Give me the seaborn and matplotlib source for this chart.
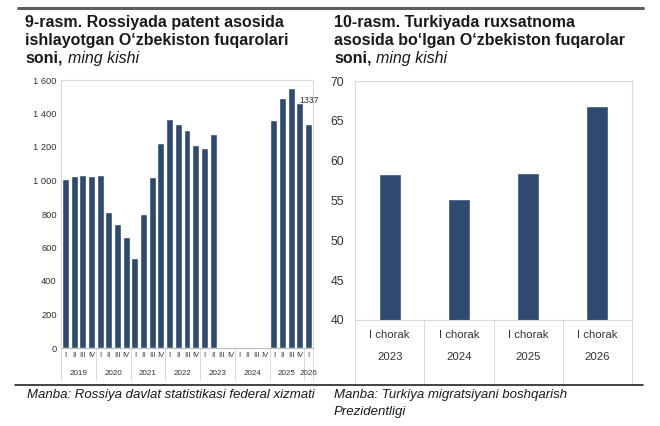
import numpy as np
import pandas as pd
import matplotlib.pyplot as plt
import matplotlib.transforms as mtransforms
import seaborn as sns

sns.set_style("white")
plt.rcParams['font.family'] = ['Liberation Sans', 'DejaVu Sans']

# ---- data: chart 9 (Russia, patents, thousand people)
years_ru = ['2019', '2020', '2021', '2022', '2023', '2024', '2025', '2026']
quarters = ['I', 'II', 'III', 'IV']
q_per_year = [4, 4, 4, 4, 4, 4, 4, 1]
ru_values = [1010, 1028, 1035, 1028,
             1035, 810, 740, 660,
             540, 800, 1020, 1225,
             1365, 1335, 1300, 1210,
             1195, 1280, np.nan, np.nan,
             np.nan, np.nan, np.nan, np.nan,
             1360, 1495, 1550, 1465,
             1337]
last_label = "1337"

# ---- data: chart 10 (Turkey, permits, thousand people)
tr_quarter = 'I chorak'
tr_years = ['2023', '2024', '2025', '2026']
tr_values = [58.3, 55.2, 58.4, 66.8]

bar_color = '#2F4A70'
frame_color = '#D9D9D9'

ru_labels = []
ru_q = []
for y, n in zip(years_ru, q_per_year):
    for q in quarters[:n]:
        ru_labels.append(y + ' ' + q)
        ru_q.append(q)
ru = pd.DataFrame({'period': ru_labels, 'value': ru_values})
tr = pd.DataFrame({'year': tr_years, 'value': tr_values})

fig = plt.figure(figsize=(6.6, 4.26), dpi=100)
W, H = 660, 426

def px_axes(x0, y0, x1, y1):
    return fig.add_axes([x0 / W, 1 - y1 / H, (x1 - x0) / W, (y1 - y0) / H])

# ---------------- left chart
ax1 = px_axes(61, 80, 313, 348)
sns.barplot(data=ru.dropna(), x='period', y='value', order=ru_labels,
            color=bar_color, saturation=1, width=0.8, errorbar=None, ax=ax1)
ax1.set_xlim(-0.5, len(ru_labels) - 0.5)
ax1.set_ylim(0, 1600)
ax1.set_yticks(range(0, 1601, 200))
ax1.set_yticklabels([f"{v:,}".replace(',', ' ') for v in range(0, 1601, 200)],
                    fontsize=6.7, color='#333333')
ax1.set_xticks(range(len(ru_labels)))
ax1.set_xticklabels(ru_q, fontsize=5.5, color='#333333')
ax1.tick_params(axis='both', length=0, pad=3)
ax1.set_xlabel('')
ax1.set_ylabel('')
for s in ax1.spines.values():
    s.set_color(frame_color)
    s.set_linewidth(0.8)
ax1.spines['bottom'].set_color('#BBBBBB')

trans1 = mtransforms.blended_transform_factory(ax1.transData, ax1.transAxes)
pos = 0
for y, n in zip(years_ru, q_per_year):
    ax1.text(pos + (n - 1) / 2, -0.095, y, transform=trans1, ha='center',
             va='center', fontsize=5.8, color='#333333')
    ax1.plot([pos - 0.5, pos - 0.5], [0, -0.12], transform=trans1,
             color=frame_color, lw=0.7, clip_on=False)
    pos += n
ax1.plot([pos - 0.5, pos - 0.5], [0, -0.12], transform=trans1,
         color=frame_color, lw=0.7, clip_on=False)
ax1.text(len(ru_labels) - 2.1, 1480, last_label, fontsize=6.3, color='#333333',
         ha='left', va='center')

# ---------------- right chart
ax2 = px_axes(355, 81, 632, 320)
sns.barplot(data=tr, x='year', y='value', order=tr_years, color=bar_color,
            saturation=1, width=0.32, errorbar=None, ax=ax2)
ax2.set_xlim(-0.5, len(tr_years) - 0.5)
ax2.set_ylim(40, 70)
ax2.set_yticks(range(40, 71, 5))
ax2.set_yticklabels([str(v) for v in range(40, 71, 5)], fontsize=8.8, color='#333333')
ax2.set_xticks(range(len(tr_years)))
ax2.set_xticklabels([tr_quarter] * len(tr_years), fontsize=8.2, color='#333333')
ax2.tick_params(axis='both', length=0, pad=8)
ax2.tick_params(axis='x', pad=7)
ax2.set_xlabel('')
ax2.set_ylabel('')
for s in ax2.spines.values():
    s.set_color(frame_color)
    s.set_linewidth(0.8)

trans2 = mtransforms.blended_transform_factory(ax2.transData, ax2.transAxes)
for i, y in enumerate(tr_years):
    ax2.text(i, -0.155, y, transform=trans2, ha='center', va='center',
             fontsize=8.2, color='#333333')
for i in range(len(tr_years) + 1):
    ax2.plot([i - 0.5, i - 0.5], [0, -0.27], transform=trans2,
             color=frame_color, lw=0.7, clip_on=False)

# ---------------- titles, rules, sources
fig.add_artist(plt.Line2D([18 / W, 643 / W], [1 - 7.5 / H, 1 - 7.5 / H],
                          color='#5A5F66', lw=2.2))
fig.add_artist(plt.Line2D([15 / W, 643 / W], [1 - 385 / H, 1 - 385 / H],
                          color='#222222', lw=1.2))

title_kw = dict(fontsize=11.5, fontweight='bold', color='#1a1a1a', va='center')
fig.text(25 / W, 1 - 22 / H, "9-rasm. Rossiyada patent asosida", **title_kw)
fig.text(25 / W, 1 - 40 / H, "ishlayotgan O\u2018zbekiston fuqarolari", **title_kw)
fig.text(25 / W, 1 - 58 / H, "soni,", **title_kw)
fig.text(68 / W, 1 - 58 / H, "ming kishi", fontsize=11.5, style='italic',
         color='#1a1a1a', va='center')
fig.text(334 / W, 1 - 22 / H, "10-rasm. Turkiyada ruxsatnoma", **title_kw)
fig.text(334 / W, 1 - 40 / H, "asosida bo\u2018lgan O\u2018zbekiston fuqarolar", **title_kw)
fig.text(334 / W, 1 - 58 / H, "soni,", **title_kw)
fig.text(376 / W, 1 - 58 / H, "ming kishi", fontsize=11.5, style='italic',
         color='#1a1a1a', va='center')

src_kw = dict(fontsize=9.5, style='italic', color='#1a1a1a', va='center')
fig.text(27 / W, 1 - 395 / H, "Manba: Rossiya davlat statistikasi federal xizmati", **src_kw)
fig.text(334 / W, 1 - 395 / H, "Manba: Turkiya migratsiyani boshqarish", **src_kw)
fig.text(334 / W, 1 - 412 / H, "Prezidentligi", **src_kw)

fig.savefig('out.png', dpi=100)
